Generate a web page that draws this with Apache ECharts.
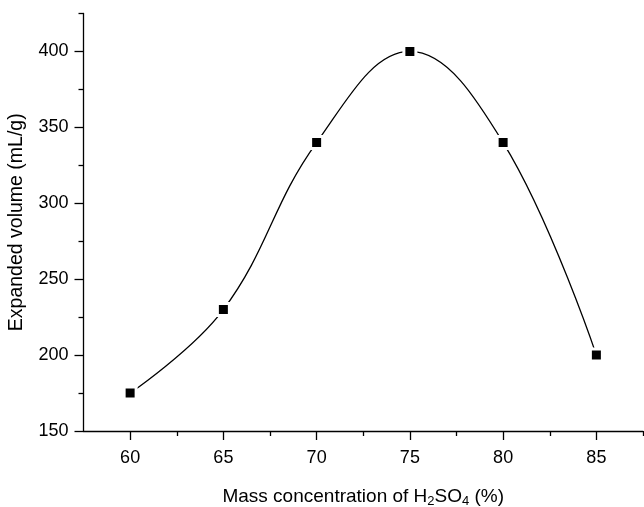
<!DOCTYPE html>
<html>
<head>
<meta charset="utf-8">
<script src="https://cdn.jsdelivr.net/npm/echarts@6/dist/echarts.min.js"></script>
<style>
  html, body { margin: 0; padding: 0; background: #fff; }
  #chart { width: 644px; height: 507px; }
</style>
</head>
<body>
<div id="chart"></div>
<script>
// 数据
const concentration = [60, 65, 70, 75, 80, 85];
const expandedVolume = [175, 230, 340, 400, 340, 200];
const xMajorTicks = [60, 65, 70, 75, 80, 85];
const xMinorTicks = [62.5, 67.5, 72.5, 77.5, 82.5, 87.5];
const yMajorTicks = [150, 200, 250, 300, 350, 400];
const yMinorTicks = [175, 225, 275, 325, 375, 425];

const font = 'Liberation Sans, Arial, sans-serif';

const chart = echarts.init(document.getElementById('chart'));

const baseX = {
    type: 'value',
    min: 57.5,
    max: 87.5,
    position: 'bottom',
    splitLine: { show: false }
};
const baseY = {
    type: 'value',
    min: 150,
    max: 425,
    position: 'left',
    splitLine: { show: false }
};

const option = {
    animation: false,
    grid: { left: 83.5, right: 1, top: 13.5, bottom: 76, outerBoundsMode: 'none', containLabel: false },
    xAxis: [
        Object.assign({}, baseX, {
            name: 'Mass concentration of H{sub|2}SO{sub|4} (%)',
            nameLocation: 'middle',
            nameGap: 55,
            nameTextStyle: {
                color: '#000', fontSize: 19, fontFamily: font,
                rich: { sub: { fontSize: 13, verticalAlign: 'bottom', padding: [9, 0, 0, 0], fontFamily: font } }
            },
            axisLine: { lineStyle: { color: '#000', width: 1.3 } },
            axisTick: { inside: false, length: 9, customValues: xMajorTicks, lineStyle: { color: '#000', width: 1.3 } },
            axisLabel: { customValues: xMajorTicks, color: '#000', fontSize: 18, fontFamily: font, margin: 18 }
        }),
        Object.assign({}, baseX, {
            axisLine: { show: false },
            axisTick: { length: 5, customValues: xMinorTicks, lineStyle: { color: '#000', width: 1.3 } },
            axisLabel: { show: false }
        })
    ],
    yAxis: [
        Object.assign({}, baseY, {
            name: 'Expanded volume (mL/g)',
            nameLocation: 'middle',
            nameGap: 57,
            nameTextStyle: { color: '#000', fontSize: 19.5, fontFamily: font },
            axisLine: { lineStyle: { color: '#000', width: 1.3 } },
            axisTick: { length: 9, customValues: yMajorTicks, lineStyle: { color: '#000', width: 1.3 } },
            axisLabel: { customValues: yMajorTicks, color: '#000', fontSize: 18, fontFamily: font, margin: 15 }
        }),
        Object.assign({}, baseY, {
            axisLine: { show: false },
            axisTick: { length: 5, customValues: yMinorTicks, lineStyle: { color: '#000', width: 1.3 } },
            axisLabel: { show: false }
        })
    ],
    series: [
        {
            type: 'line',
            data: concentration.map((x, i) => [x, expandedVolume[i]]),
            smooth: 0.4,
            symbol: 'rect',
            symbolSize: 12,
            lineStyle: { color: '#000', width: 1.3 },
            itemStyle: { color: '#000', borderColor: '#fff', borderWidth: 3 }
        }
    ]
};

chart.setOption(option);
</script>
</body>
</html>
